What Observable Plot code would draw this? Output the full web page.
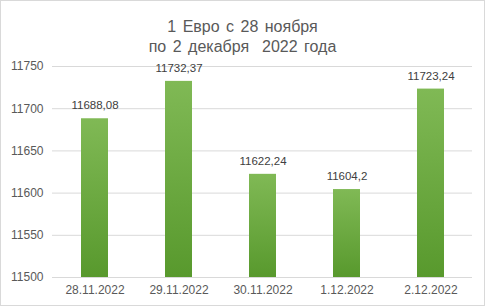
<!DOCTYPE html>
<html>
<head>
<meta charset="utf-8">
<script src="https://cdn.jsdelivr.net/npm/d3@7"></script>
<script src="https://cdn.jsdelivr.net/npm/@observablehq/plot@0.6"></script>
<style>
  html, body { margin: 0; padding: 0; background: #fff; }
  #chart {
    width: 485px; height: 306px; box-sizing: border-box;
    border: 1px solid #d9d9d9; position: relative; overflow: hidden;
    font-family: "Liberation Sans", Arial, sans-serif;
  }
  #title {
    height: 55px; box-sizing: border-box; padding-top: 16px;
    text-align: center; color: #595959; font-size: 16px; line-height: 20px;
    word-spacing: 2px;
  }
  #chart svg { display: block; }
</style>
</head>
<body>
<div id="chart">
  <div id="title">1 Евро с 28 ноября<br>по 2 декабря&nbsp; 2022 года</div>
</div>
<script>
// Euro exchange rate by day
const dates = ["28.11.2022", "29.11.2022", "30.11.2022", "1.12.2022", "2.12.2022"];
const rates = [11688.08, 11732.37, 11622.24, 11604.2, 11723.24];
const yTicks = [11500, 11550, 11600, 11650, 11700, 11750];

const rows = dates.map((d, i) => ({date: d, rate: rates[i]}));
const fmt = v => String(v).replace(".", ",");

const plot = Plot.plot({
  width: 483,
  height: 249,
  marginTop: 10,
  marginBottom: 28,
  marginLeft: 51,
  marginRight: 12,
  style: {fontFamily: "'Liberation Sans', Arial, sans-serif", fontSize: "12px", color: "#595959", background: "transparent"},
  x: {domain: dates, label: null, paddingInner: 0.68, paddingOuter: 0.34, tickSize: 0, tickPadding: 8},
  y: {domain: [11500, 11750], ticks: yTicks, label: null, tickSize: 0, tickPadding: 9, tickFormat: d => String(d)},
  marks: [
    Plot.ruleY(yTicks, {stroke: "#d9d9d9", strokeWidth: 1}),
    Plot.barY(rows, {x: "date", y1: 11500, y2: "rate", fill: "url(#barGrad)"}),
    Plot.text(rows, {x: "date", y: "rate", text: d => fmt(d.rate), dy: -13, fill: "#404040", fontSize: 11.5})
  ]
});

// vertical green gradient for the bars
const svg = d3.select(plot);
const grad = svg.insert("defs", ":first-child")
  .append("linearGradient")
  .attr("id", "barGrad")
  .attr("x1", 0).attr("y1", 0).attr("x2", 0).attr("y2", 1);
grad.append("stop").attr("offset", "0%").attr("stop-color", "#80b955");
grad.append("stop").attr("offset", "100%").attr("stop-color", "#58992d");

document.getElementById("chart").appendChild(plot);
</script>
</body>
</html>
